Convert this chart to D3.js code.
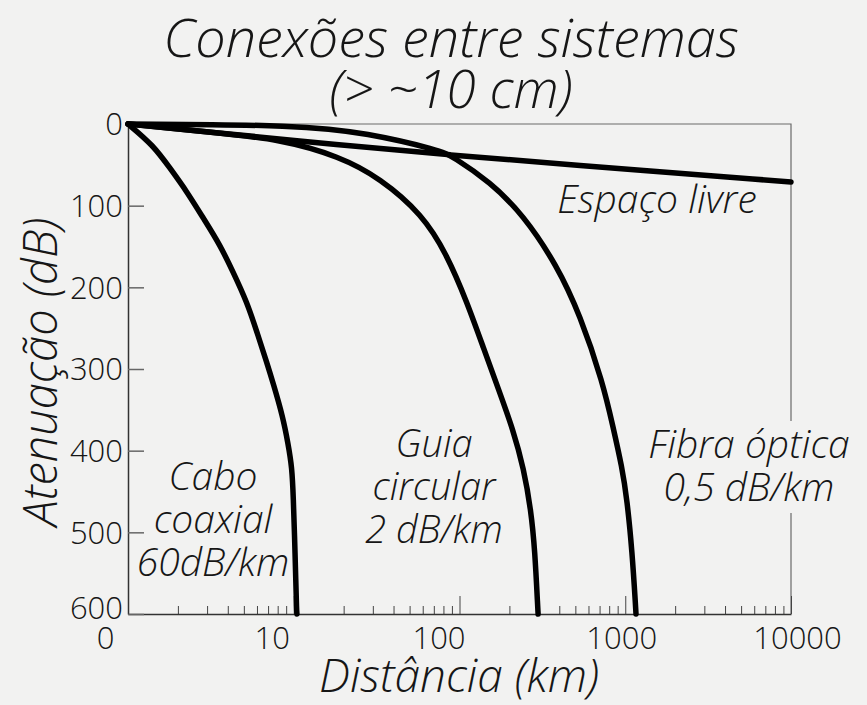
<!DOCTYPE html>
<html>
<head>
<meta charset="utf-8">
<script src="https://cdn.jsdelivr.net/npm/d3@7"></script>
<style>
  body { margin: 0; background: #f2f2f1; }
  svg text { font-family: "Open Sans", sans-serif; font-weight: 300; fill: #161616; }
</style>
</head>
<body>
<script>
// distance (km) / attenuation (dB)
var freeKm  = [1, 3, 19, 88, 404, 10000];
var freeDb  = [0, 9.5, 25.7, 38, 49, 71];

var coaxKm  = [1, 1.42, 1.79, 2.27, 2.84, 3.59, 4.3, 5.22, 6.0, 6.9, 7.5, 8.61, 9.23, 9.76, 9.95, 10.1, 10.3, 10.4, 10.45];
var coaxDb  = [0, 26, 54, 83, 115, 148, 181, 218, 255, 293, 317, 359, 391, 420, 460, 501, 562, 595, 600];

var guideKm = [1, 3, 8.3, 19, 33, 60, 84, 111, 140, 172, 211, 244, 270, 285, 297, 298];
var guideDb = [0, 9.5, 18.5, 40, 66, 111, 160, 218, 275, 325, 375, 422, 473, 522, 595, 600];

var fiberKm = [1, 10.9, 27.7, 76, 91, 153, 242, 387, 534, 734, 844, 956, 1025, 1099, 1158, 1161];
var fiberDb = [0, 1.2, 11, 32, 40, 71, 111, 173, 234, 317, 371, 420, 460, 522, 595, 600];

var xTicks = [1, 10, 100, 1000, 10000];
var xTickLabels = ["0", "10", "100", "1000", "10000"];
var yTicks = [0, 100, 200, 300, 400, 500, 600];

var width = 867,
    height = 705,
    bg = "#f2f2f1";

var svg = d3.select("body").append("svg")
    .attr("width", width)
    .attr("height", height)
    .style("background-color", bg);

var x = d3.scaleLog().domain([1, 10000]).range([128, 791]);
var y = d3.scaleLinear().domain([0, 600]).range([124, 614]);

// frame top + right
svg.append("path")
    .attr("d", "M" + x(1) + "," + y(0) + "H" + x(10000) + "V" + y(600))
    .attr("fill", "none")
    .attr("stroke", "#6a6a6a")
    .attr("stroke-width", 1.2);

// minor log ticks
var minor = [];
[1, 10, 100, 1000].forEach(function (d) {
    for (var k = 2; k <= 9; k++) minor.push(d * k);
});

svg.append("g")
    .attr("transform", "translate(0," + y(600) + ")")
    .call(d3.axisBottom(x).tickValues(minor).tickSize(-8).tickFormat(""))
    .call(g => g.select(".domain").remove())
    .call(g => g.selectAll("line").attr("stroke", "#444"));

var labelShift = [-23, -22, -21, -4, 6];

var xAxis = svg.append("g")
    .attr("transform", "translate(0," + y(600) + ")")
    .call(d3.axisBottom(x).tickValues(xTicks).tickSizeInner(-18).tickSizeOuter(0)
        .tickFormat((d, i) => xTickLabels[i]));
xAxis.select(".domain").attr("stroke", "#333").attr("stroke-width", 1.5);
xAxis.selectAll("line").attr("stroke", "#444");
xAxis.selectAll("text")
    .attr("y", 35)
    .attr("dy", 0)
    .attr("dx", (d, i) => labelShift[i])
    .style("font-size", "31px");

var yAxis = svg.append("g")
    .attr("transform", "translate(" + x(1) + ",0)")
    .call(d3.axisLeft(y).tickValues(yTicks).tickSizeInner(-16).tickSizeOuter(0).tickPadding(5));
yAxis.select(".domain").attr("stroke", "#333").attr("stroke-width", 1.5);
yAxis.selectAll("line").attr("stroke", "#666").attr("stroke-width", 1.5);
yAxis.selectAll("text")
    .attr("dy", d => d == 600 ? "0.15em" : "0.35em")
    .style("font-size", "31px");

// curves
var line = d3.line()
    .x(d => x(d[0]))
    .y(d => y(d[1]))
    .curve(d3.curveBasis);

var series = [
    d3.zip(freeKm, freeDb),
    d3.zip(guideKm, guideDb),
    d3.zip(fiberKm, fiberDb),
    d3.zip(coaxKm, coaxDb)
];

svg.selectAll(".curve")
    .data(series)
    .enter()
    .append("path")
    .attr("class", "curve")
    .attr("d", line)
    .attr("fill", "none")
    .attr("stroke", "#000")
    .attr("stroke-width", 5.5)
    .attr("stroke-linecap", "round")
    .attr("stroke-linejoin", "round");

// label block for fibre hides the frame behind it
svg.append("rect")
    .attr("x", 640).attr("y", 421)
    .attr("width", 224).attr("height", 92)
    .attr("fill", bg);

function block(lines, cx, y0, size) {
    var t = svg.append("text")
        .attr("text-anchor", "middle")
        .style("font-style", "italic")
        .style("font-size", size + "px");
    lines.forEach(function (s, i) {
        t.append("tspan").attr("x", cx).attr("y", y0 + i * 43).text(s);
    });
}

block(["Espaço livre"], 657, 213, 39);
block(["Cabo", "coaxial", "60dB/km"], 213, 490, 39);
block(["Guia", "circular", "2 dB/km"], 434, 457, 38);
block(["Fibra óptica", "0,5 dB/km"], 749, 458, 39);

// titles
block(["Conexões entre sistemas"], 451, 57, 54);
svg.append("text")
    .attr("x", 451).attr("y", 108)
    .attr("text-anchor", "middle")
    .style("font-style", "italic")
    .style("font-size", "53px")
    .text("(> ~10 cm)");

svg.append("text")
    .attr("x", 459).attr("y", 692)
    .attr("text-anchor", "middle")
    .style("font-style", "italic")
    .style("font-size", "46px")
    .text("Distância (km)");

svg.append("text")
    .attr("transform", "translate(57,372) rotate(-90)")
    .attr("text-anchor", "middle")
    .style("font-style", "italic")
    .style("font-size", "47px")
    .text("Atenuação (dB)");
</script>
</body>
</html>
